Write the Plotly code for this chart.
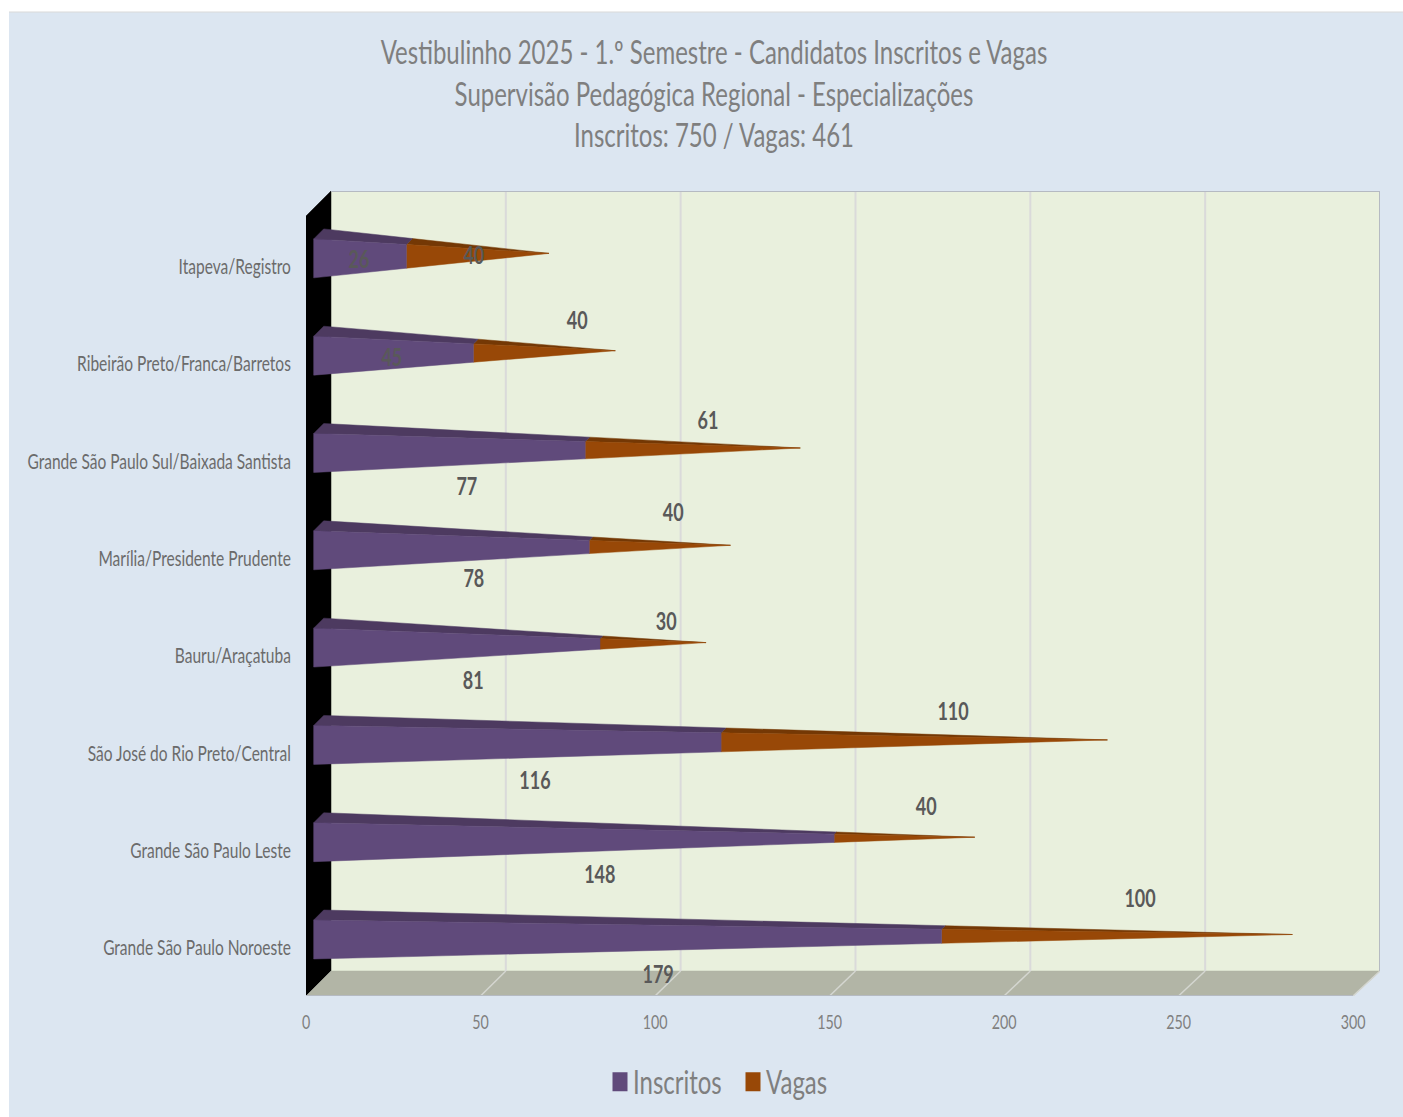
import plotly.graph_objects as go

categories = ["Grande São Paulo Noroeste", "Grande São Paulo Leste", "São José do Rio Preto/Central",
              "Bauru/Araçatuba", "Marília/Presidente Prudente", "Grande São Paulo Sul/Baixada Santista",
              "Ribeirão Preto/Franca/Barretos", "Itapeva/Registro"]
inscritos = [179, 148, 116, 81, 78, 77, 45, 26]
vagas = [100, 40, 110, 30, 40, 61, 40, 40]
x_ticks = [0, 50, 100, 150, 200, 250, 300]

# data-label anchors (axis units)
inscritos_label_x = [100.9, 84.2, 65.6, 47.9, 48.1, 46.1, 24.6, 15.2]
inscritos_label_y = [-0.298, 0.730, 1.696, 2.723, 3.772, 4.717, 6.043, 7.050]
vagas_label_x = [239.0, 177.7, 185.4, 103.2, 105.2, 115.2, 77.7, 48.1]
vagas_label_y = [0.483, 1.429, 2.405, 3.330, 4.450, 5.396, 6.423, 7.091]

FONT = "Lato"
W, H = 1403, 1117
L, R, T, B = 306, 1380, 191, 996
X_MAX = 307.74
Y_MIN, Y_MAX = -0.493, 7.78
DX, DY = 7.16, 0.257            # depth of the 3-D box in axis units
BACK = (X_MAX - DX) / 300       # back wall scale
X0, HALF, YOFF = 2.2, 0.2, 0.0874
PDX, PDY = 2.87, 0.103          # pyramid depth

PURPLE, PURPLE_TOP = "#604a7b", "#4d3a60"
ORANGE, ORANGE_TOP = "#984807", "#743805"

fig = go.Figure()


def poly(xs, ys, color, width=0.5):
    fig.add_trace(go.Scatter(x=xs, y=ys, mode="lines", fill="toself", fillcolor=color,
                             line=dict(width=width, color=color),
                             hoverinfo="skip", showlegend=False))


def seg(xs, ys, color, width=1.5):
    fig.add_trace(go.Scatter(x=xs, y=ys, mode="lines", line=dict(color=color, width=width),
                             hoverinfo="skip", showlegend=False))


# box: back wall, left wall, floor
poly([DX, X_MAX, X_MAX, DX, DX], [Y_MIN + DY, Y_MIN + DY, Y_MAX, Y_MAX, Y_MIN + DY], "#e9f0dd")
poly([0, DX, DX, 0, 0], [Y_MIN, Y_MIN + DY, Y_MAX, Y_MAX - DY, Y_MIN], "#000000")
poly([0, 300, X_MAX, DX, 0], [Y_MIN, Y_MIN, Y_MIN + DY, Y_MIN + DY, Y_MIN], "#b2b5a6")

# gridlines on back wall and floor
for v in x_ticks[1:-1]:
    bx = DX + v * BACK
    seg([bx, bx], [Y_MIN + DY, Y_MAX], "#dadada", 2)
for v in x_ticks[1:]:
    bx = DX + v * BACK
    seg([v, bx], [Y_MIN, Y_MIN + DY], "#d4d6d0", 1.5)
seg([DX, X_MAX, X_MAX], [Y_MAX, Y_MAX, Y_MIN + DY], "#b5bac2", 2)
seg([0, 300], [Y_MIN, Y_MIN], "#b5bac2", 2)


def faces(i, a, b, total):
    """Front and top quads of the pyramid slice between fractions a and b."""
    yc = i + YOFF
    ax, ay = X0 + PDX / 2 + total, yc + PDY / 2
    def lerp(px, py, f):
        return px + (ax - px) * f, py + (ay - py) * f
    ft, fb, bt = (X0, yc + HALF), (X0, yc - HALF), (X0 + PDX, yc + HALF + PDY)
    p = [lerp(*ft, a), lerp(*ft, b), lerp(*fb, b), lerp(*fb, a), lerp(*ft, a)]
    q = [lerp(*ft, a), lerp(*bt, a), lerp(*bt, b), lerp(*ft, b), lerp(*ft, a)]
    return p, q


for i in range(len(categories)):
    total = inscritos[i] + vagas[i]
    f = inscritos[i] / total
    for (a, b, cf, ct) in ((f, 1, ORANGE, ORANGE_TOP), (0, f, PURPLE, PURPLE_TOP)):
        p, q = faces(i, a, b, total)
        poly([c[0] for c in q], [c[1] for c in q], ct)
        poly([c[0] for c in p], [c[1] for c in p], cf)

label_font = dict(family=FONT, size=24, color="#595959", weight="bold")
fig.add_trace(go.Scatter(x=inscritos_label_x, y=inscritos_label_y, mode="text", text=[str(v) for v in inscritos],
                         textposition="middle center", textfont=label_font, hoverinfo="skip", showlegend=False))
fig.add_trace(go.Scatter(x=vagas_label_x, y=vagas_label_y, mode="text", text=[str(v) for v in vagas],
                         textposition="middle center", textfont=label_font, hoverinfo="skip", showlegend=False))

# legend entries
fig.add_trace(go.Scatter(x=[None], y=[None], mode="markers", name="Inscritos",
                         marker=dict(symbol="square", size=15, color=PURPLE)))
fig.add_trace(go.Scatter(x=[None], y=[None], mode="markers", name="Vagas",
                         marker=dict(symbol="square", size=15, color=ORANGE)))

title_lines = ["Vestibulinho 2025 - 1.º Semestre - Candidatos Inscritos e Vagas",
               "Supervisão Pedagógica Regional - Especializações",
               "Inscritos: 750 / Vagas: 461"]

fig.update_layout(
    width=W, height=H,
    margin=dict(l=L, r=W - R, t=T, b=H - B, autoexpand=False),
    paper_bgcolor="#ffffff", plot_bgcolor="rgba(0,0,0,0)",
    title=dict(text="<br>".join(title_lines),
               font=dict(family=FONT, size=32, color="#7f7f7f"),
               x=714 / W, xanchor="center", y=1 - 64 / H, yanchor="top"),
    xaxis=dict(range=[0, X_MAX], tickvals=x_ticks, ticktext=[str(v) for v in x_ticks], showgrid=False,
               zeroline=False, showline=False, ticks="outside", ticklen=9, tickcolor="rgba(0,0,0,0)",
               tickfont=dict(family=FONT, size=19, color="#7f7f7f")),
    yaxis=dict(range=[Y_MIN, Y_MAX], tickvals=list(range(len(categories))), ticktext=categories, showgrid=False,
               zeroline=False, showline=False, ticks="outside", ticklen=10, tickcolor="rgba(0,0,0,0)",
               tickfont=dict(family=FONT, size=20.7, color="#6b6b6b")),
    legend=dict(orientation="h", x=(733 - L) / (R - L), xanchor="center", y=-(1082 - B) / (B - T), yanchor="middle",
                font=dict(family=FONT, size=32, color="#7f7f7f"), bgcolor="rgba(0,0,0,0)",
                entrywidth=88, entrywidthmode="pixels"),
    shapes=[dict(type="rect", xref="paper", yref="paper", layer="below",
                 x0=(9 - L) / (R - L), x1=(W - L) / (R - L), y0=(B - H) / (B - T), y1=(B - 12) / (B - T),
                 fillcolor="#dce6f1", line=dict(width=0)),
            dict(type="line", xref="paper", yref="paper", layer="below",
                 x0=(9 - L) / (R - L), x1=(W - L) / (R - L), y0=(B - 12) / (B - T), y1=(B - 12) / (B - T),
                 line=dict(width=1, color="#d9d9d9"))],
)

# zero page margin, and narrow the glyphs horizontally like the stretched original
post = """
document.body.style.margin = '0';
function squeeze() {
  var rules = [['text.gtitle', 'center center', 'scaleX(0.75)'], ['.ytick text', 'right center', 'scaleX(0.75)'],
               ['.xtick text', 'center center', 'scaleX(0.75)'], ['.textpoint text', 'center center', 'scaleX(0.75)'],
               ['.legendtext', 'left center', 'translateX(-7px) scaleX(0.75)'],
               ['.legendpoints .scatterpts', 'center center', 'scaleY(1.27)']];
  rules.forEach(function (r) {
    document.querySelectorAll(r[0]).forEach(function (t) {
      if (t.parentNode.dataset && t.parentNode.dataset.sq) return;
      var g = document.createElementNS('http://www.w3.org/2000/svg', 'g');
      g.dataset.sq = '1';
      g.style.transformBox = 'fill-box';
      g.style.transformOrigin = r[1];
      g.style.transform = r[2];
      t.parentNode.insertBefore(g, t);
      g.appendChild(t);
    });
  });
}
squeeze();
setTimeout(squeeze, 100);
"""
fig.write_html("out.html", post_script=post, config=dict(displayModeBar=False))
